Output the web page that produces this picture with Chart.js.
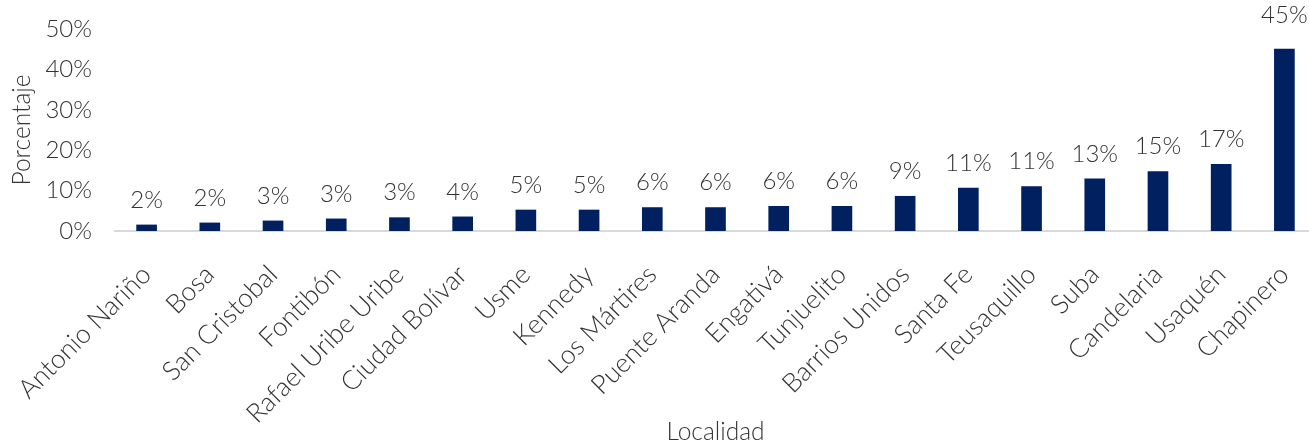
<!DOCTYPE html>
<html>
<head>
<meta charset="utf-8">
<script src="https://cdn.jsdelivr.net/npm/chart.js@4"></script>
<style>
html,body{margin:0;padding:0;background:#fff;overflow:hidden;}
#wrap{width:1309px;height:440px;position:relative;overflow:hidden;}
</style>
</head>
<body>
<div id="wrap"><canvas id="c" width="1316" height="440"></canvas></div>
<script>
const categories = ["Antonio Nariño","Bosa","San Cristobal","Fontibón","Rafael Uribe Uribe","Ciudad Bolívar","Usme","Kennedy","Los Mártires","Puente Aranda","Engativá","Tunjuelito","Barrios Unidos","Santa Fe","Teusaquillo","Suba","Candelaria","Usaquén","Chapinero"];
const values = [1.5, 2.0, 2.5, 3.0, 3.3, 3.5, 5.2, 5.2, 5.8, 5.8, 6.1, 6.1, 8.6, 10.6, 11.0, 12.9, 14.7, 16.5, 45.0];
const yTicks = [0, 10, 20, 30, 40, 50];

const FONT = "Lato, 'Open Sans', sans-serif";
const TXT = "#333333";
const NUM_SIZE = 24;
const WORD_SIZE = 24.5;
const CAT_SIZE = 26.5;
const W = 300;

const labelPlugin = {
  id: 'barLabels',
  afterDatasetsDraw(chart) {
    const ctx = chart.ctx;
    const meta = chart.getDatasetMeta(0);
    const top = chart.chartArea.top;
    ctx.save();
    ctx.font = W + " " + NUM_SIZE + "px " + FONT;
    ctx.fillStyle = TXT;
    ctx.textAlign = 'center';
    ctx.textBaseline = 'bottom';
    meta.data.forEach((bar, i) => {
      let y = bar.y - 13;
      if (bar.y < top + 30) y = top - 2;
      ctx.fillText(Math.round(values[i]) + '%', bar.x, y);
    });
    ctx.restore();
  }
};

new Chart(document.getElementById('c'), {
  type: 'bar',
  data: {
    labels: categories,
    datasets: [{
      data: values,
      backgroundColor: '#002060',
      borderWidth: 0,
      barThickness: 20
    }]
  },
  options: {
    responsive: false,
    animation: false,
    devicePixelRatio: 1,
    layout: { padding: { top: 29, right: 0, left: 7, bottom: -4 } },
    plugins: { legend: { display: false }, tooltip: { enabled: false } },
    scales: {
      x: {
        afterFit(scale) { scale.paddingLeft = 0; scale.paddingRight = 0; scale.height = 213; },
        grid: { display: false, drawTicks: false },
        border: { display: true, color: '#d9d9d9', width: 2 },
        ticks: {
          color: TXT, font: { family: FONT, size: CAT_SIZE, weight: W },
          maxRotation: 45, minRotation: 45, autoSkip: false, padding: 28
        },
        title: { display: true, text: 'Localidad', color: TXT, font: { family: FONT, size: WORD_SIZE, weight: W, lineHeight: 1 }, padding: { top: 0, bottom: 0 } }
      },
      y: {
        min: 0, max: 50,
        afterBuildTicks(axis) { axis.ticks = yTicks.map(v => ({ value: v })); },
        afterFit(scale) { scale.width = 108; scale.paddingTop = 0; scale.paddingBottom = 0; },
        grid: { display: false, drawTicks: false },
        border: { display: false },
        ticks: {
          color: TXT, font: { family: FONT, size: NUM_SIZE, weight: W }, padding: 23,
          callback: v => v + '%'
        },
        title: { display: true, text: 'Porcentaje', color: TXT, font: { family: FONT, size: WORD_SIZE, weight: W }, padding: { top: 0, bottom: 0 } }
      }
    }
  },
  plugins: [labelPlugin]
});
</script>
</body>
</html>
